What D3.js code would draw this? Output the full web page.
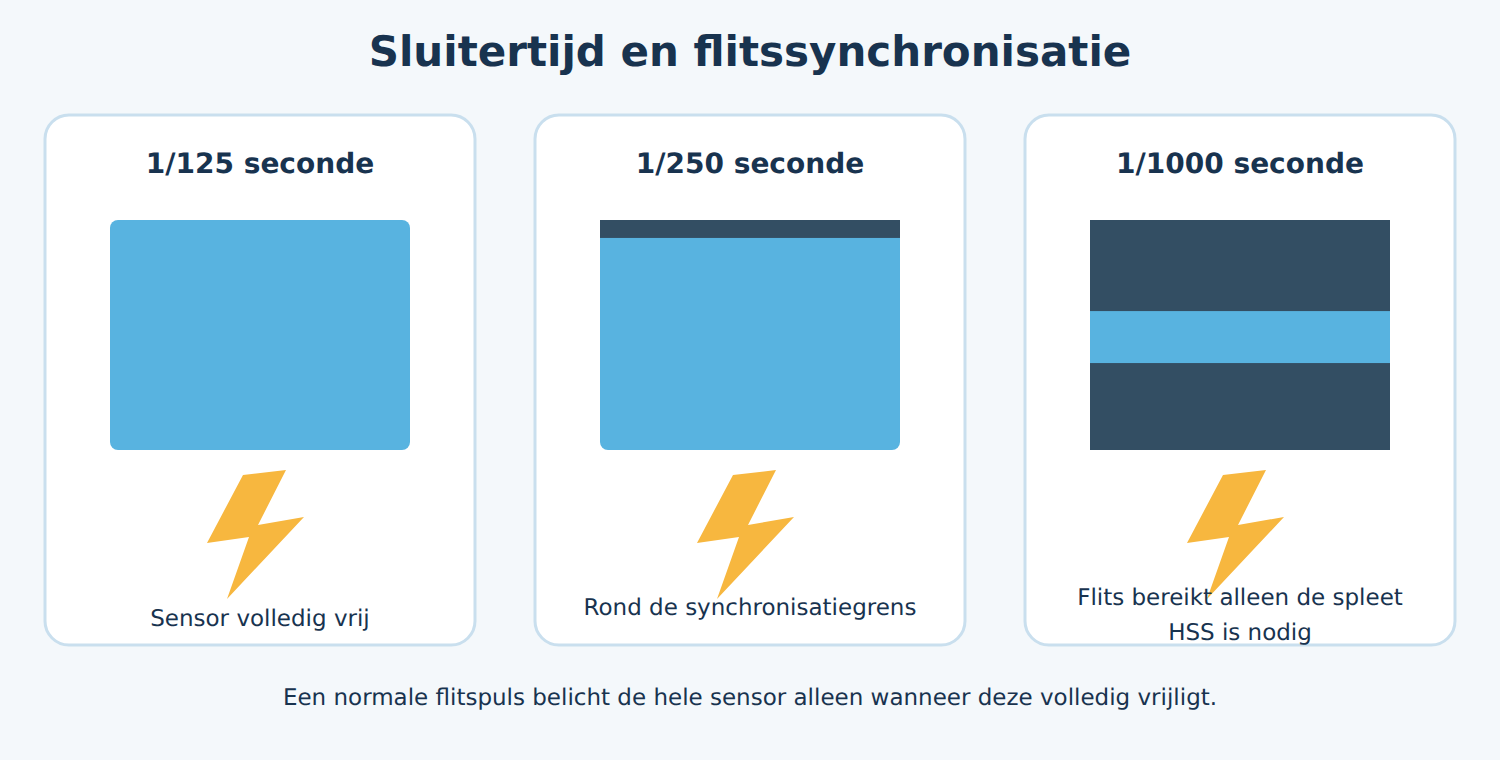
<!DOCTYPE html>
<html lang="nl">
<head>
<meta charset="utf-8">
<title>Sluitertijd en flitssynchronisatie</title>
<script src="https://cdn.jsdelivr.net/npm/d3@7"></script>
<style>
  html, body { margin: 0; padding: 0; background: #F4F8FB; }
  svg { display: block; font-family: "DejaVu Sans", sans-serif; text-rendering: geometricPrecision; }
</style>
</head>
<body>
<div id="chart"></div>
<script>
const TITLE = 'Sluitertijd en flitssynchronisatie';
const FOOTNOTE = 'Een normale flitspuls belicht de hele sensor alleen wanneer deze volledig vrijligt.';

const shutterSpeeds = ['1/125 seconde', '1/250 seconde', '1/1000 seconde'];
// open part of the sensor, percent from the top
const slitStart = [0, 7.8, 39.6];
const slitEnd = [100, 100, 62.2];
const captions = [
  ['Sensor volledig vrij'],
  ['Rond de synchronisatiegrens'],
  ['Flits bereikt alleen de spleet', 'HSS is nodig'],
];
// flash glyph outline, in glyph units
const boltX = [36, 79, 51, 97, 20, 42, 0];
const boltY = [5, 0, 55, 47, 129, 67, 73];

const THEME = {
  bg: '#F4F8FB',
  card: '#FFFFFF',
  cardStroke: '#C9DFEE',
  text: '#18334F',
  sensor: '#58B3E0',
  curtain: '#334E63',
  flash: '#F7B73F',
};

const width = 1500;
const height = 760;

const svg = d3.select('#chart').append('svg')
  .attr('width', width)
  .attr('height', height)
  .attr('viewBox', `0 0 ${width} ${height}`);

svg.append('rect').attr('width', width).attr('height', height).attr('fill', THEME.bg);

svg.append('text')
  .attr('x', width / 2)
  .attr('y', 65.5)
  .attr('text-anchor', 'middle')
  .attr('font-size', 42)
  .attr('font-weight', 700)
  .attr('fill', THEME.text)
  .text(TITLE);

const cardX = d3.scaleBand()
  .domain(d3.range(shutterSpeeds.length))
  .range([45, 1455])
  .paddingInner(60 / 490);
const cardWidth = cardX.bandwidth();

// percent of the sensor height to pixels
const sensorY = d3.scaleLinear().domain([0, 100]).range([220, 450]);
const boltScaleX = d3.scaleLinear().domain([0, 97]).range([-53, 44]);
const boltScaleY = d3.scaleLinear().domain([0, 129]).range([470, 599]);
const boltLine = d3.line().x(i => boltScaleX(boltX[i])).y(i => boltScaleY(boltY[i])).curve(d3.curveLinearClosed);

const captionBaseline = [625.5, 615, 605];
const sensorX = 65;
const sensorWidth = 300;

const cards = svg.selectAll('g.card')
  .data(d3.range(shutterSpeeds.length))
  .join('g')
  .attr('class', 'card')
  .attr('transform', i => `translate(${cardX(i)},0)`);

cards.append('rect')
  .attr('y', 115)
  .attr('width', cardWidth)
  .attr('height', 530)
  .attr('rx', 24)
  .attr('fill', THEME.card)
  .attr('stroke', THEME.cardStroke)
  .attr('stroke-width', 3);

cards.append('text')
  .attr('x', cardWidth / 2)
  .attr('y', 173)
  .attr('text-anchor', 'middle')
  .attr('font-size', 28)
  .attr('font-weight', 700)
  .attr('fill', THEME.text)
  .text(i => shutterSpeeds[i]);

// sensor with the two curtains over it
cards.append('rect')
  .attr('x', sensorX)
  .attr('y', sensorY(0))
  .attr('width', sensorWidth)
  .attr('height', sensorY(100) - sensorY(0))
  .attr('rx', 8)
  .attr('fill', THEME.sensor);

cards.filter(i => slitStart[i] > 0).append('rect')
  .attr('x', sensorX)
  .attr('y', sensorY(0))
  .attr('width', sensorWidth)
  .attr('height', i => sensorY(slitStart[i]) - sensorY(0))
  .attr('fill', THEME.curtain);

cards.filter(i => slitEnd[i] < 100).append('rect')
  .attr('x', sensorX)
  .attr('y', i => sensorY(slitEnd[i]))
  .attr('width', sensorWidth)
  .attr('height', i => sensorY(100) - sensorY(slitEnd[i]))
  .attr('fill', THEME.curtain);

cards.append('path')
  .attr('transform', `translate(${cardWidth / 2},0)`)
  .attr('d', boltLine(d3.range(boltX.length)))
  .attr('fill', THEME.flash);

cards.each(function (i) {
  d3.select(this).selectAll('text.caption')
    .data(captions[i])
    .join('text')
    .attr('class', 'caption')
    .attr('x', cardWidth / 2)
    .attr('y', (line, j) => captionBaseline[i] + j * 35)
    .attr('text-anchor', 'middle')
    .attr('font-size', 23)
    .attr('fill', THEME.text)
    .text(line => line);
});

svg.append('text')
  .attr('x', width / 2)
  .attr('y', 705)
  .attr('text-anchor', 'middle')
  .attr('font-size', 23)
  .attr('fill', THEME.text)
  .text(FOOTNOTE);
</script>
</body>
</html>
